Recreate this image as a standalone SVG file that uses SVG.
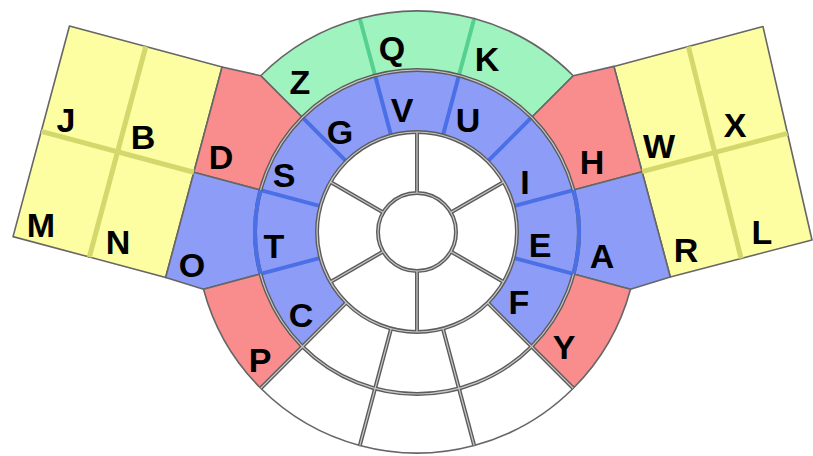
<svg xmlns="http://www.w3.org/2000/svg" width="813" height="456" viewBox="0 0 813 456">
<style>
.cell{stroke:#666;stroke-width:1.6;stroke-linejoin:round}
.gr{fill:#9ef3be}
.rd{fill:#f98d8d}
.bl{fill:#8c9cf7}
.yl{fill:#fdfda2}
.wh{fill:#fff}
.lbl{font-family:"Liberation Sans",Arial,sans-serif;font-weight:bold;font-size:34px;fill:#000;text-anchor:middle}
.railD{stroke:#5c5c5c;stroke-width:4;fill:none}
.railL{stroke:#c8c8c8;stroke-width:1.2;fill:none}
.bline{stroke:#4a6fe6;stroke-width:4;fill:none}
.gline{stroke:#55d08f;stroke-width:4;fill:none}
.yline{stroke:#d2d86c;stroke-width:5;fill:none}
</style>
<defs>
<g id="rails">
<circle cx="417" cy="232" r="39"/>
<circle cx="417" cy="232" r="100"/>
<circle cx="417" cy="232" r="162"/>
<path d="M450.78,212.5L503.6,182M417,193L417,132M383.22,212.5L330.4,182M383.22,251.5L330.4,282M417,271L417,332M450.78,251.5L503.6,282"/>
<path d="M346.29,302.71L260.73,388.27M391.12,328.59L359.8,445.47M442.88,328.59L474.2,445.47M487.71,302.71L573.27,388.27"/>
</g>
</defs>
<rect width="813" height="456" fill="#fff"/>

<g id="panel-left">
<g id="node-J"><rect class="cell yl" x="28" y="123" width="79" height="109" transform="rotate(15 417 232)"/><text class="lbl" x="66" y="132">J</text></g>
<g id="node-B"><rect class="cell yl" x="107" y="123" width="79" height="109" transform="rotate(15 417 232)"/><text class="lbl" x="143" y="149">B</text></g>
<g id="node-M"><rect class="cell yl" x="28" y="232" width="79" height="109" transform="rotate(15 417 232)"/><text class="lbl" x="41" y="237">M</text></g>
<g id="node-N"><rect class="cell yl" x="107" y="232" width="79" height="109" transform="rotate(15 417 232)"/><text class="lbl" x="118" y="254">N</text></g>
</g>
<g id="panel-right">
<g id="node-W"><polygon class="cell yl" points="613.9,66.4 688.4,46.5 714.8,152.5 642.1,171.7"/><text class="lbl" x="659" y="158">W</text></g>
<g id="node-X"><polygon class="cell yl" points="688.4,46.5 763,26.6 787.5,133.3 714.8,152.5"/><text class="lbl" x="735" y="137">X</text></g>
<g id="node-R"><polygon class="cell yl" points="642.1,171.7 714.8,152.5 741.1,258.5 670.3,277"/><text class="lbl" x="686" y="262">R</text></g>
<g id="node-L"><polygon class="cell yl" points="714.8,152.5 787.5,133.3 812,240 741.1,258.5"/><text class="lbl" x="762" y="244">L</text></g>
</g>

<g id="blank-cells">
<circle class="wh" cx="417" cy="232" r="100"/>
<path class="cell wh" d="M531.55,346.55A162,162 0 0 1 458.93,388.48L442.88,328.59A100,100 0 0 0 487.71,302.71Z"/>
<path class="cell wh" d="M458.93,388.48A162,162 0 0 1 375.07,388.48L391.12,328.59A100,100 0 0 0 442.88,328.59Z"/>
<path class="cell wh" d="M375.07,388.48A162,162 0 0 1 302.45,346.55L346.29,302.71A100,100 0 0 0 391.12,328.59Z"/>
<path class="cell wh" d="M573.27,388.27A221,221 0 0 1 474.2,445.47L458.93,388.48A162,162 0 0 0 531.55,346.55Z"/>
<path class="cell wh" d="M474.2,445.47A221,221 0 0 1 359.8,445.47L375.07,388.48A162,162 0 0 0 458.93,388.48Z"/>
<path class="cell wh" d="M359.8,445.47A221,221 0 0 1 260.73,388.27L302.45,346.55A162,162 0 0 0 375.07,388.48Z"/>
</g>

<g id="node-Z"><path class="cell gr" d="M260.73,75.73A221,221 0 0 1 359.8,18.53L375.07,75.52A162,162 0 0 0 302.45,117.45Z"/><text class="lbl" x="300" y="94">Z</text></g>
<g id="node-Q"><path class="cell gr" d="M359.8,18.53A221,221 0 0 1 474.2,18.53L458.93,75.52A162,162 0 0 0 375.07,75.52Z"/><text class="lbl" x="392" y="60">Q</text></g>
<g id="node-K"><path class="cell gr" d="M474.2,18.53A221,221 0 0 1 573.27,75.73L531.55,117.45A162,162 0 0 0 458.93,75.52Z"/><text class="lbl" x="487" y="71">K</text></g>

<g id="node-D"><path class="cell rd" d="M222.08,66.92L260.73,75.73L302.45,117.45A162,162 0 0 0 260.52,190.07L193.87,172.21Z"/><text class="lbl" x="221" y="169">D</text></g>
<g id="node-O"><path class="cell bl" d="M193.87,172.21L260.52,190.07A162,162 0 0 0 260.52,273.93L203.53,289.2L165.66,277.5Z"/><text class="lbl" x="192" y="277">O</text></g>
<g id="node-P"><path class="cell rd" d="M260.73,388.27A221,221 0 0 1 203.53,289.2L260.52,273.93A162,162 0 0 0 302.45,346.55Z"/><text class="lbl" x="260" y="372">P</text></g>
<g id="node-H"><path class="cell rd" d="M573.27,75.73L613.9,66.4L642.1,171.7L573.48,190.07A162,162 0 0 0 531.55,117.45Z"/><text class="lbl" x="592" y="174">H</text></g>
<g id="node-A"><path class="cell bl" d="M573.48,190.07L642.1,171.7L670.3,277L630.47,289.2L573.48,273.93A162,162 0 0 0 573.48,190.07Z"/><text class="lbl" x="602" y="268">A</text></g>
<g id="node-Y"><path class="cell rd" d="M630.47,289.2A221,221 0 0 1 573.27,388.27L531.55,346.55A162,162 0 0 0 573.48,273.93Z"/><text class="lbl" x="564" y="359">Y</text></g>

<g id="node-G"><path class="cell bl" d="M302.45,117.45A162,162 0 0 1 375.07,75.52L391.12,135.41A100,100 0 0 0 346.29,161.29Z"/></g>
<g id="node-V"><path class="cell bl" d="M375.07,75.52A162,162 0 0 1 458.93,75.52L442.88,135.41A100,100 0 0 0 391.12,135.41Z"/></g>
<g id="node-U"><path class="cell bl" d="M458.93,75.52A162,162 0 0 1 531.55,117.45L487.71,161.29A100,100 0 0 0 442.88,135.41Z"/></g>
<g id="node-I"><path class="cell bl" d="M531.55,117.45A162,162 0 0 1 573.48,190.07L513.59,206.12A100,100 0 0 0 487.71,161.29Z"/></g>
<g id="node-E"><path class="cell bl" d="M573.48,190.07A162,162 0 0 1 573.48,273.93L513.59,257.88A100,100 0 0 0 513.59,206.12Z"/></g>
<g id="node-F"><path class="cell bl" d="M573.48,273.93A162,162 0 0 1 531.55,346.55L487.71,302.71A100,100 0 0 0 513.59,257.88Z"/></g>
<g id="node-C"><path class="cell bl" d="M302.45,346.55A162,162 0 0 1 260.52,273.93L320.41,257.88A100,100 0 0 0 346.29,302.71Z"/></g>
<g id="node-T"><path class="cell bl" d="M260.52,273.93A162,162 0 0 1 260.52,190.07L320.41,206.12A100,100 0 0 0 320.41,257.88Z"/></g>
<g id="node-S"><path class="cell bl" d="M260.52,190.07A162,162 0 0 1 302.45,117.45L346.29,161.29A100,100 0 0 0 320.41,206.12Z"/></g>

<g id="lines">
<line class="yline" x1="107" y1="123" x2="107" y2="341" transform="rotate(15 417 232)"/>
<line class="yline" x1="28" y1="232" x2="186" y2="232" transform="rotate(15 417 232)"/>
<line class="yline" x1="688.4" y1="46.5" x2="741.1" y2="258.5"/>
<line class="yline" x1="642.1" y1="171.7" x2="787.5" y2="133.3"/>
<path class="bline" d="M513.59,206.12L573.48,190.07M487.71,161.29L531.55,117.45M442.88,135.41L458.93,75.52M391.12,135.41L375.07,75.52M346.29,161.29L302.45,117.45M320.41,206.12L260.52,190.07M320.41,257.88L260.52,273.93M513.59,257.88L573.48,273.93"/>
<use href="#rails" class="railD"/>
<use href="#rails" class="railL"/>
<path class="bline" d="M260.52,190.07A162,162 0 0 0 260.52,273.93M573.48,273.93A162,162 0 0 0 573.48,190.07"/>
<path class="gline" d="M374.55,73.59L360.06,19.5M459.45,73.59L473.94,19.5"/>
</g>

<g id="ring-labels">
<text class="lbl" x="402" y="122">V</text>
<text class="lbl" x="468" y="132">U</text>
<text class="lbl" x="340" y="144">G</text>
<text class="lbl" x="284" y="187">S</text>
<text class="lbl" x="525" y="194">I</text>
<text class="lbl" x="274" y="258">T</text>
<text class="lbl" x="540" y="257">E</text>
<text class="lbl" x="301" y="327">C</text>
<text class="lbl" x="519" y="314">F</text>
</g>
</svg>
